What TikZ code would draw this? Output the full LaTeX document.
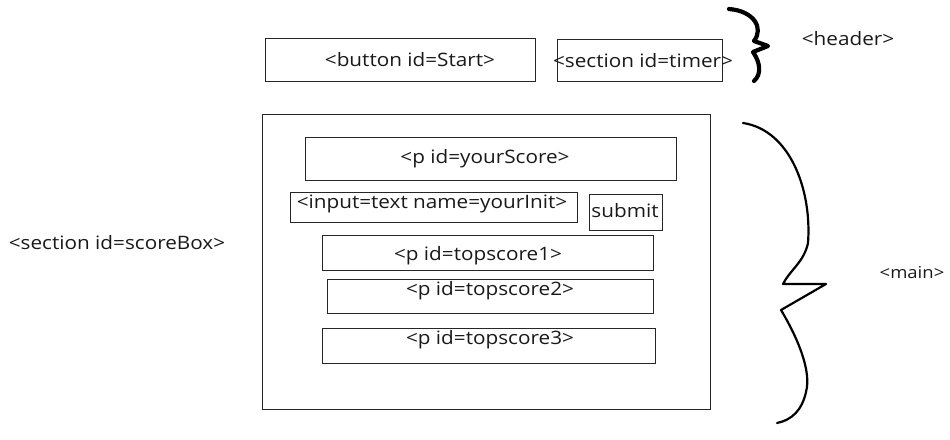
\documentclass[tikz,border=0pt]{standalone}
\usepackage{fontspec}
\setmainfont[FakeStretch=1.12]{Open Sans}
\begin{document}
\begin{tikzpicture}[x=1pt,y=-1pt,
  box/.style={draw=black!85,line width=1.1pt,inner sep=0pt,anchor=north west},
  lbl/.style={font=\fontsize{18.5}{21}\selectfont,inner sep=0pt,text=black!90},
  brace/.style={draw=black,line cap=round,line join=round}]
\useasboundingbox (0,0) rectangle (950,439);
% header boxes
\node[box,minimum width=270pt,minimum height=43pt] (btn) at (265,38) {};
\node[lbl] (btnt) at (410,60) {<button id=Start>};
\node[box,minimum width=165pt,minimum height=42pt] (timer) at (557,39) {};
\node[lbl] (timert) at (643,61) {<section id=timer>};
% main box
\node[box,minimum width=448pt,minimum height=295pt] (main) at (262,114) {};
\node[box,minimum width=371pt,minimum height=43pt] (score) at (305,137) {};
\node[lbl] (scoret) at (485,159) {<p id=yourScore>};
\node[box,minimum width=287pt,minimum height=30pt] (input) at (290,192) {};
\node[lbl] (inputt) at (432,204) {<input=text name=yourInit>};
\node[box,minimum width=73pt,minimum height=36pt] (submit) at (589,194) {};
\node[lbl] (submitt) at (625,211) {submit};
\node[box,minimum width=331pt,minimum height=35pt] (top1) at (322,235) {};
\node[lbl] (top1t) at (478,256) {<p id=topscore1>};
\node[box,minimum width=326pt,minimum height=34pt] (top2) at (327,279) {};
\node[lbl] (top2t) at (490,291) {<p id=topscore2>};
\node[box,minimum width=333pt,minimum height=35pt] (top3) at (322,328) {};
\node[lbl] (top3t) at (490,340) {<p id=topscore3>};
% side labels
\node[lbl] (scorebox) at (117,243) {<section id=scoreBox>};
\node[lbl] (header) at (848,39) {<header>};
\node[lbl,font=\fontsize{16.5}{19}\selectfont] (mainl) at (912,273) {<main>};
% header brace
\draw[brace,line width=4.2pt] (729,9) .. controls (754,11) and (764,28) .. (754,41)
  -- (768,46) -- (753,52) .. controls (760,62) and (762,74) .. (754,81);
% main brace
\draw[brace,line width=2.2pt] (743,123) .. controls (790,130) and (812,190) .. (808,243)
  .. controls (804,262) and (790,270) .. (783,284) -- (826,284) -- (781,310)
  .. controls (796,335) and (812,370) .. (806,392) .. controls (802,410) and (792,420) .. (777,423);
\end{tikzpicture}
\end{document}
